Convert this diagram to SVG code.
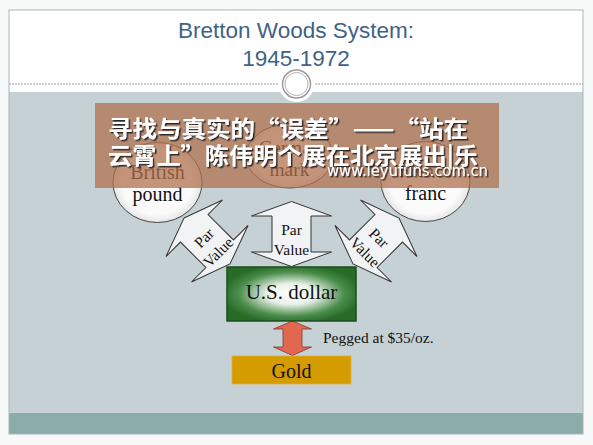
<svg xmlns="http://www.w3.org/2000/svg" xmlns:xlink="http://www.w3.org/1999/xlink" width="593" height="445" viewBox="0 0 593 445">
<style>
.serif{font-family:"Liberation Serif","Times New Roman",serif;fill:#111;}
.title{font-family:"Liberation Sans",Arial,sans-serif;font-size:22.5px;fill:#3e6386;text-anchor:middle;}
.cur{stroke:#444;stroke-width:1;fill:url(#cg);}
.pv{fill:#f1f3f4;stroke:#333;stroke-width:1;}
.pvt{font-family:"Liberation Serif","Times New Roman",serif;font-size:15.5px;fill:#111;text-anchor:middle;}
.cn{font-family:"Noto Sans CJK SC","Noto Sans",sans-serif;font-weight:700;font-size:23px;fill:#fff;filter:url(#sh);}
</style>
<defs>
<radialGradient id="cg" cx="50%" cy="50%" r="50%">
<stop offset="0" stop-color="#ffffff"/>
<stop offset="0.8" stop-color="#fafafa"/>
<stop offset="1" stop-color="#e6e6e6"/>
</radialGradient>
<radialGradient id="gg" cx="50%" cy="50%" r="55%">
<stop offset="0" stop-color="#ffffff"/>
<stop offset="0.35" stop-color="#e9f1e9"/>
<stop offset="0.75" stop-color="#4a8c4a"/>
<stop offset="1" stop-color="#276b27"/>
</radialGradient>
<filter id="sh" x="-5%" y="-20%" width="110%" height="150%">
<feDropShadow dx="1.5" dy="1.5" stdDeviation="0.6" flood-color="#1a1a1a" flood-opacity="0.9"/>
</filter>
<path id="pv" d="M0,-32.5 L40,-18 L19.5,-18 L19.5,18 L40,18 L0,32.5 L-40,18 L-19.5,18 L-19.5,-18 L-40,-18 Z"/>
</defs>
<rect x="0" y="0" width="593" height="445" fill="#f7f9f9"/>
<g id="slide">
<rect x="9" y="10" width="574" height="82" fill="#ffffff"/>
<rect x="9" y="92" width="574" height="321" fill="#c6d1d6"/>
<rect x="9" y="413" width="574" height="21" fill="#8aacaa"/>
<rect x="9" y="10" width="574" height="424" fill="none" stroke="#aab6b9" stroke-width="1"/>
<line x1="9" y1="84" x2="281" y2="84" stroke="#9a9a9a" stroke-width="1" stroke-dasharray="2,1"/>
<line x1="312" y1="84" x2="583" y2="84" stroke="#9a9a9a" stroke-width="1" stroke-dasharray="2,1"/>
<circle cx="296.5" cy="84" r="18" fill="#ffffff"/>
<circle cx="296.5" cy="84" r="14" fill="#ffffff" stroke="#9a9a9a" stroke-width="1.5"/>
<circle cx="296.5" cy="84" r="11.5" fill="none" stroke="#b0b0b0" stroke-width="1"/>
<text class="title" x="296" y="38">Bretton Woods System:</text>
<text class="title" x="296" y="66">1945-1972</text>
</g>
<g id="connectors">
<g id="pv-left" transform="translate(207,241) rotate(-45)">
<use xlink:href="#pv" class="pv"/>
<text class="pvt" x="0" y="1">Par</text>
<text class="pvt" x="0" y="21">Value</text>
</g>
<g id="pv-mid" transform="translate(291.5,234)">
<use xlink:href="#pv" class="pv"/>
<text class="pvt" x="0" y="1">Par</text>
<text class="pvt" x="0" y="21">Value</text>
</g>
<g id="pv-right" transform="translate(376,241) rotate(45)">
<use xlink:href="#pv" class="pv"/>
<text class="pvt" x="0" y="1">Par</text>
<text class="pvt" x="0" y="21">Value</text>
</g>
<path id="peg" d="M292.5,321 L311.5,329 L302,329 L302,347 L311.5,347 L292.5,355.5 L273.5,347 L283,347 L283,329 L273.5,329 Z" fill="#e2674f" stroke="#7a3a30" stroke-width="0.8"/>
<text class="serif" x="323" y="343" font-size="15.5">Pegged at $35/oz.</text>
</g>
<g id="pound">
<ellipse class="cur" cx="157.5" cy="182.5" rx="44.5" ry="40"/>
<text class="serif" x="157.5" y="179" font-size="20" text-anchor="middle">British</text>
<text class="serif" x="157.5" y="201" font-size="20" text-anchor="middle">pound</text>
</g>
<g id="mark">
<ellipse class="cur" cx="289.5" cy="156" rx="43.5" ry="32"/>
<text class="serif" x="289.5" y="154" font-size="19" text-anchor="middle">German</text>
<text class="serif" x="289.5" y="176" font-size="19.5" text-anchor="middle">mark</text>
</g>
<g id="franc">
<ellipse class="cur" cx="425.5" cy="181.5" rx="44.5" ry="40"/>
<text class="serif" x="425.5" y="177" font-size="19" text-anchor="middle">French</text>
<text class="serif" x="425.5" y="200" font-size="20" text-anchor="middle">franc</text>
</g>
<g id="dollar">
<rect x="227" y="267" width="129" height="54" fill="url(#gg)" stroke="#1d4d1d" stroke-width="1.5"/>
<text class="serif" x="291.5" y="299" font-size="21" text-anchor="middle">U.S. dollar</text>
</g>
<g id="gold">
<rect x="232" y="356" width="119" height="28" fill="#d49c00" stroke="#e0b030" stroke-width="0.8"/>
<text class="serif" x="291.5" y="378" font-size="20" text-anchor="middle">Gold</text>
</g>
<g id="banner">
<rect x="95" y="103" width="404" height="85" fill="#b0704f" fill-opacity="0.75"/>
<text class="cn" x="108" y="137" textLength="360" lengthAdjust="spacingAndGlyphs">寻找与真实的“误差”——“站在</text>
<text class="cn" x="108" y="164" textLength="370" lengthAdjust="spacingAndGlyphs">云霄上”陈伟明个展在北京展出|乐</text>
<text x="327" y="176" font-family="'DejaVu Sans','Liberation Sans',sans-serif" font-size="15" fill="#fff" filter="url(#sh)" textLength="161" lengthAdjust="spacingAndGlyphs">www.leyufuns.com.cn</text>
</g>
</svg>
